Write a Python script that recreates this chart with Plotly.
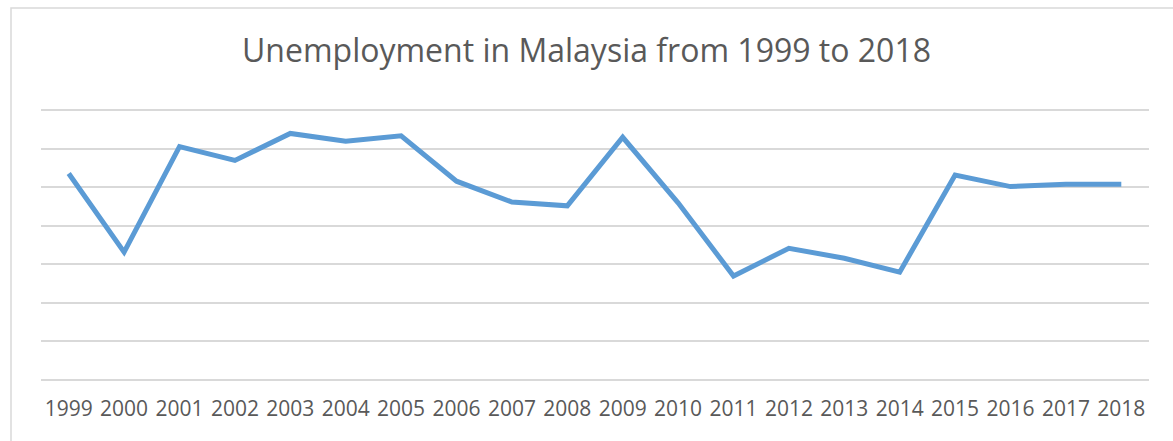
import plotly.graph_objects as go

years = [str(y) for y in range(1999, 2019)]
unemployment = [2.68, 1.66, 3.03, 2.85, 3.20, 3.10, 3.17, 2.58, 2.31, 2.26,
                3.15, 2.30, 1.35, 1.71, 1.58, 1.40, 2.66, 2.51, 2.54, 2.54]
title_text = "Unemployment in Malaysia from 1999 to 2018"

fig = go.Figure()
fig.add_trace(go.Scatter(
    x=years, y=unemployment, mode="lines",
    line=dict(color="#5B9BD5", width=5),
    showlegend=False, hoverinfo="x+y",
))

fig.update_layout(
    width=1173, height=441,
    margin=dict(l=41, r=24, t=108, b=61),
    paper_bgcolor="white", plot_bgcolor="white",
    font=dict(family="Open Sans", color="#595959"),
    title=dict(text=title_text, x=0.5, xanchor="center",
               y=1 - 51/441, yanchor="middle",
               font=dict(family="Open Sans", size=32, color="#595959")),
    xaxis=dict(type="category", range=[-0.5, 19.5], showgrid=False,
               showline=False, zeroline=False,
               ticks="", tickfont=dict(size=21, color="#595959"),
               ticklabelstandoff=14),
    yaxis=dict(range=[0, 3.53], tick0=0, dtick=0.5, showticklabels=False,
               showgrid=True, gridcolor="#D9D9D9", gridwidth=1.5,
               zeroline=True, zerolinecolor="#D9D9D9", zerolinewidth=1.5,
               showline=False),
    shapes=[dict(type="rect", xref="paper", yref="paper",
                 x0=(11-41)/1108, x1=(1190-41)/1108,
                 y0=(380-460)/272, y1=(380-8)/272,
                 line=dict(color="#D9D9D9", width=1.5), layer="below")],
)

fig.write_html("out.html")
